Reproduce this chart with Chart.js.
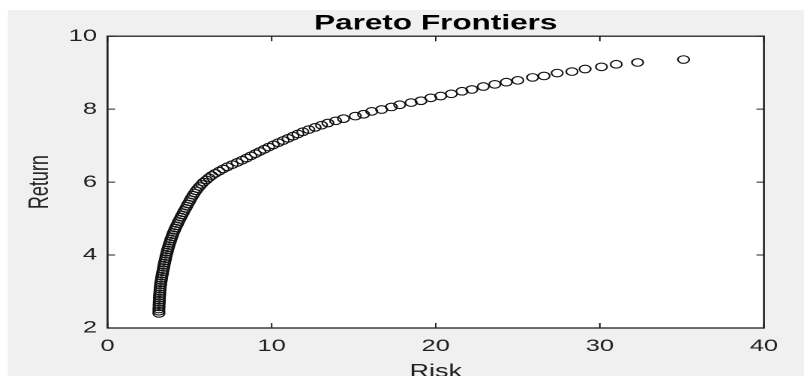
<!DOCTYPE html>
<html>
<head>
<meta charset="utf-8">
<script src="https://cdn.jsdelivr.net/npm/chart.js@4/dist/chart.umd.min.js"></script>
<style>
  html, body { margin:0; padding:0; background:#fff; overflow:hidden; width:804px; height:376px; }
  #wrap { width:536px; height:386px; transform:scaleX(1.5); transform-origin:0 0; }
</style>
</head>
<body>
<div id="wrap"><canvas id="c" width="536" height="386"></canvas></div>
<script>
// values
const riskValues = [
  3.13,3.13,3.13,3.14,3.14,3.15,3.16,3.16,3.17,3.18,
  3.19,3.20,3.21,3.23,3.24,3.27,3.29,3.31,3.34,3.36,
  3.39,3.42,3.44,3.47,3.50,3.53,3.56,3.59,3.63,3.66,
  3.70,3.74,3.78,3.83,3.87,3.92,3.97,4.02,4.08,4.14,
  4.20,4.27,4.33,4.40,4.47,4.54,4.61,4.68,4.76,4.83,
  4.90,4.98,5.05,5.13,5.21,5.30,5.39,5.49,5.61,5.73,
  5.85,6.02,6.18,6.35,6.56,6.80,7.04,7.30,7.60,7.90,
  8.20,8.47,8.74,9.01,9.28,9.55,9.82,10.10,10.40,10.70,
  11.00,11.30,11.60,11.90,12.26,12.65,13.04,13.43,13.90,14.38,
  15.1,15.6,16.1,16.7,17.3,17.8,18.5,19.1,19.7,20.3,
  20.95,21.6,22.2,22.9,23.6,24.3,25.0,25.9,26.6,27.4,
  28.3,29.1,30.1,31.0,32.3,35.1
];
const returnValues = [
  2.40,2.46,2.52,2.58,2.64,2.70,2.76,2.82,2.88,2.94,
  3.00,3.06,3.12,3.18,3.24,3.30,3.36,3.42,3.48,3.54,
  3.60,3.66,3.72,3.78,3.84,3.90,3.96,4.02,4.08,4.14,
  4.20,4.26,4.32,4.38,4.44,4.50,4.56,4.62,4.68,4.74,
  4.80,4.86,4.92,4.98,5.04,5.10,5.16,5.22,5.28,5.34,
  5.40,5.46,5.52,5.58,5.64,5.70,5.76,5.82,5.88,5.94,
  6.00,6.06,6.12,6.18,6.24,6.30,6.36,6.42,6.48,6.54,
  6.60,6.66,6.72,6.78,6.84,6.90,6.96,7.02,7.08,7.14,
  7.20,7.26,7.32,7.38,7.44,7.50,7.56,7.62,7.68,7.74,
  7.81,7.86,7.94,7.99,8.06,8.12,8.18,8.23,8.31,8.36,
  8.42,8.49,8.54,8.62,8.68,8.74,8.79,8.87,8.91,8.99,
  9.03,9.10,9.16,9.23,9.28,9.36
];
const xTicks = [0, 10, 20, 30, 40];
const yTicks = [2, 4, 6, 8, 10];

const axisCol = '#222';
const FONT = "'Liberation Sans', Arial, sans-serif";

// gray figure, white axes, box + inward ticks like matlab
const figurePlugin = {
  id: 'figure',
  beforeDraw(chart) {
    const { ctx, chartArea: a, width, height } = chart;
    ctx.save();
    ctx.fillStyle = '#fff'; ctx.fillRect(0, 0, width, height);
    ctx.fillStyle = '#f0f0f0'; ctx.fillRect(5.3, 10, width, height);
    ctx.fillStyle = '#fff'; ctx.fillRect(a.left, a.top, a.right - a.left, a.bottom - a.top);
    ctx.restore();
  },
  afterDraw(chart) {
    const { ctx, chartArea: a } = chart;
    const xs = chart.scales.x, ys = chart.scales.y;
    ctx.save();
    ctx.strokeStyle = axisCol; ctx.lineWidth = 1.3;
    ctx.strokeRect(a.left, a.top, a.right - a.left, a.bottom - a.top);
    ctx.lineWidth = 1;
    ctx.beginPath();
    xs.ticks.forEach(t => {
      const px = xs.getPixelForValue(t.value);
      ctx.moveTo(px, a.bottom); ctx.lineTo(px, a.bottom - 5);
      ctx.moveTo(px, a.top); ctx.lineTo(px, a.top + 5);
    });
    ys.ticks.forEach(t => {
      const py = ys.getPixelForValue(t.value);
      ctx.moveTo(a.left, py); ctx.lineTo(a.left + 5, py);
      ctx.moveTo(a.right, py); ctx.lineTo(a.right - 5, py);
    });
    ctx.stroke();
    ctx.restore();
  }
};

new Chart(document.getElementById('c'), {
  type: 'scatter',
  data: {
    datasets: [{
      data: riskValues.map((r, i) => ({ x: r, y: returnValues[i] })),
      pointStyle: 'circle',
      pointRadius: 3.8,
      pointBorderWidth: 1.1,
      borderColor: '#111',
      backgroundColor: 'rgba(0,0,0,0)',
      showLine: false
    }]
  },
  options: {
    responsive: false,
    animation: false,
    devicePixelRatio: 2,
    layout: { padding: { left: 0, right: 26.7, top: 0, bottom: 0 } },
    plugins: {
      legend: { display: false },
      tooltip: { enabled: false },
      title: {
        display: true, text: 'Pareto Frontiers', fullSize: false,
        color: '#000', font: { family: FONT, size: 21, weight: 'bold' },
        padding: { top: 11, bottom: 0 }
      }
    },
    scales: {
      x: {
        type: 'linear', min: 0, max: 40,
        afterBuildTicks: s => { s.ticks = xTicks.map(v => ({ value: v })); },
        afterFit: s => { s.height = 58; },
        grid: { display: false, drawTicks: false },
        border: { display: false },
        ticks: { color: axisCol, font: { family: FONT, size: 17 }, padding: 8, maxRotation: 0 },
        title: { display: true, text: 'Risk', color: axisCol, font: { family: FONT, size: 18 }, padding: { top: 4, bottom: 3 } }
      },
      y: {
        type: 'linear', min: 2, max: 10,
        afterBuildTicks: s => { s.ticks = yTicks.map(v => ({ value: v })); },
        afterFit: s => { s.width = 71.7; },
        grid: { display: false, drawTicks: false },
        border: { display: false },
        ticks: { color: axisCol, font: { family: FONT, size: 17 }, padding: 7 },
        title: { display: true, text: 'Return', color: axisCol, font: { family: FONT, size: 18 }, padding: { top: 16, bottom: 0 } }
      }
    }
  },
  plugins: [figurePlugin]
});
</script>
</body>
</html>
